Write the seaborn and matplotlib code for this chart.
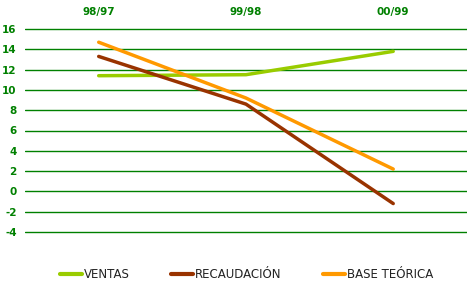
import pandas as pd
import matplotlib.pyplot as plt
import seaborn as sns

periodos = ["98/97", "99/98", "00/99"]
ventas = [11.4, 11.5, 13.8]
recaudacion = [13.3, 8.6, -1.2]
base_teorica = [14.7, 9.2, 2.2]
series = ["VENTAS", "RECAUDACIÓN", "BASE TEÓRICA"]
colores = ["#99CC00", "#993300", "#FF9900"]

df = pd.DataFrame({
    "periodo": periodos * 3,
    "valor": ventas + recaudacion + base_teorica,
    "serie": [s for s in series for _ in periodos],
})

sns.set_style("white")
plt.rcParams["axes.unicode_minus"] = False
fig = plt.figure(figsize=(4.73, 2.91), dpi=100)
ax = fig.add_axes([0.053, 1 - 234 / 291, 0.934, 207 / 291])

sns.lineplot(data=df, x="periodo", y="valor", hue="serie", hue_order=series,
             palette=colores, linewidth=2.5, ax=ax, legend=False)

ax.set_xlim(-0.5, 2.5)
ax.set_ylim(-4.2, 16.2)
ax.set_yticks(range(-4, 17, 2))
ax.yaxis.grid(True, color="#008000", linewidth=1)
ax.xaxis.grid(False)
for s in ax.spines.values():
    s.set_visible(False)
ax.xaxis.tick_top()
ax.tick_params(axis="both", length=0, labelcolor="#008000", labelsize=7.5)
ax.tick_params(axis="x", pad=7)
ax.tick_params(axis="y", pad=6)
for lbl in ax.get_xticklabels() + ax.get_yticklabels():
    lbl.set_fontweight("bold")
ax.set_xlabel("")
ax.set_ylabel("")

handles = [plt.Line2D([], [], color=c, linewidth=3) for c in colores]
fig.legend(handles, series, loc="center", bbox_to_anchor=(246.5 / 473, 1 - 275 / 291),
           ncol=3, frameon=False, fontsize=8.5, handlelength=1.9, handletextpad=0.15,
           columnspacing=3.5, labelcolor="#222222")

fig.savefig("out.png", dpi=100)
